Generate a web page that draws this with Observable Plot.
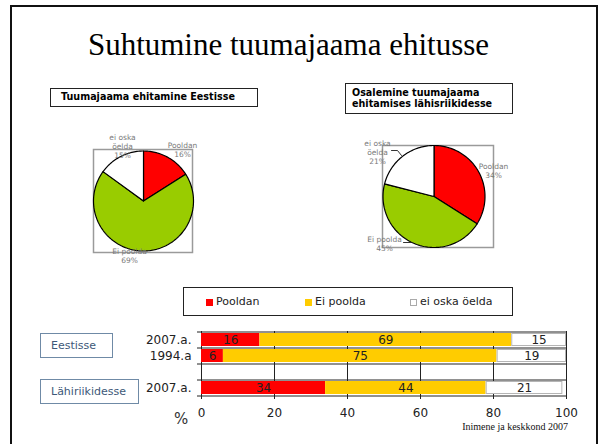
<!DOCTYPE html>
<html>
<head>
<meta charset="utf-8">
<script src="https://cdn.jsdelivr.net/npm/d3@7"></script>
<script src="https://cdn.jsdelivr.net/npm/@observablehq/plot@0.6"></script>
<style>
html, body { margin: 0; padding: 0; background: #fff; }
#slide { position: relative; width: 600px; height: 444px; overflow: hidden; font-family: "DejaVu Sans", Verdana, sans-serif; }
.abs { position: absolute; }
#border { left: 10px; top: 5px; width: 588px; height: 470px; border: 2px solid #111; box-sizing: border-box; }
#title { left: 0; top: 29px; width: 577px; text-align: center; font: 31px/31px "Liberation Serif", "Times New Roman", serif; color: #000; white-space: nowrap; }
.tbox { border: 1.5px solid #222; box-sizing: border-box; font-weight: bold; font-size: 9.6px; color: #000; white-space: pre; }
.gbox { border: 1.5px solid #6f8aa6; box-sizing: border-box; font-size: 11px; color: #3d5878; display: flex; align-items: center; padding-left: 10px; }
#legend { left: 183px; top: 287px; width: 330px; height: 29px; border: 1.5px solid #222; box-sizing: border-box; }
.sw { position: absolute; width: 7px; height: 7px; top: 11px; box-sizing: border-box; }
.lt { position: absolute; top: 7px; font-size: 11px; line-height: 13px; color: #222; white-space: nowrap; }
#pct { left: 174px; top: 410px; font-size: 15px; color: #333; }
#source { left: 400px; top: 421px; width: 168px; text-align: right; font: 10px/12px "Liberation Serif", "Times New Roman", serif; color: #111; white-space: nowrap; }
</style>
</head>
<body>
<div id="slide"></div>
<script>
// ---------- data ----------
const slideTitle = "Suhtumine tuumajaama ehitusse";
const pieTitles = ["Tuumajaama ehitamine Eestisse", "Osalemine tuumajaama\nehitamises lähisriikidesse"];
const pieSeries = ["Pooldan", "Ei poolda", "ei oska öelda"];
const pieLabelNames = ["Pooldan", "Ei poolda", "ei oska\nöelda"];
const pieColors = ["#ff0000", "#99cc00", "#ffffff"];
const eestiValues = [16, 69, 15];
const lahiValues = [34, 45, 21];

const barSeries = ["Pooldan", "Ei poolda", "ei oska öelda"];
const barColors = ["#ff0000", "#ffcc00", "#ffffff"];
const rowKeys = ["Eestisse 2007.a.", "Eestisse 1994.a", "vahe", "Lähiriikidesse 2007.a."];
const rowLabels = ["2007.a.", "1994.a", "", "2007.a."];
const pooldanValues = [16, 6, null, 34];
const eiPooldaValues = [69, 75, null, 44];
const eiOskaValues = [15, 19, null, 21];
const groupLabels = ["Eestisse", "Lähiriikidesse"];
const xTicks = [0, 20, 40, 60, 80, 100];
const unitLabel = "%";
const sourceText = "Inimene ja keskkond 2007";

// ---------- layout ----------
const PIE_LAYOUT = [
  { left: 60, top: 128, width: 170, height: 145, box: { l: 93, t: 149, r: 192, b: 252 }, cx: 143, cy: 200.5, r: 50,
    labels: [[39, 51], [-14, -55], [-21, 54.5]], leaders: [] },
  { left: 340, top: 128, width: 190, height: 135, box: { l: 382, t: 145, r: 493, b: 247 }, cx: 433.5, cy: 196, r: 51,
    labels: [[59.5, 25.5], [-49.5, -47.5], [-56.5, 44.5]],
    leaders: [[[-42.5, 46], [-36.5, 46], [-32.5, 41]], [[-30.5, -46], [-23.5, -46]]] }
];
const TBOX = [
  { left: 50, top: 88, width: 208, height: 19, pad: 10, lh: 16 },
  { left: 345, top: 83, width: 168, height: 31, pad: 6, lh: 11 }
];
const BAR = { left: 130, top: 322, width: 450, height: 106, plotL: 201, plotR: 566, plotT: 331, plotB: 395 };
const GBOX = [
  { left: 40, top: 333, width: 73, height: 25 },
  { left: 40, top: 379, width: 99, height: 25 }
];
const LEGEND_X = [22, 121, 226];

const slide = document.getElementById("slide");
function addDiv(cls, id, css, text) {
  const d = document.createElement("div");
  d.className = cls; if (id) d.id = id;
  Object.assign(d.style, css || {});
  if (text != null) d.textContent = text;
  slide.appendChild(d);
  return d;
}
function place(node, left, top) {
  const w = document.createElement("div");
  w.className = "abs";
  w.style.left = left + "px"; w.style.top = top + "px";
  w.appendChild(node);
  slide.appendChild(w);
}

addDiv("abs", "border");
addDiv("abs", "title", null, slideTitle);

// titles of pies
pieTitles.forEach((t, i) => {
  const b = TBOX[i];
  addDiv("abs tbox", null, { left: b.left + "px", top: b.top + "px", width: b.width + "px", height: b.height + "px",
    paddingLeft: b.pad + "px", lineHeight: b.lh + "px", paddingTop: (i === 0 ? 0 : 3) + "px" }, t);
});

// ---------- pies ----------
function pie(values, cfg) {
  const total = d3.sum(values);
  const pts = [];
  let acc = 0;
  values.forEach((v, i) => {
    const a0 = acc / total * 2 * Math.PI; acc += v; const a1 = acc / total * 2 * Math.PI;
    const n = Math.max(2, Math.ceil((a1 - a0) / (Math.PI / 120)));
    pts.push({ series: pieSeries[i], px: 0, py: 0 });
    for (let k = 0; k <= n; k++) {
      const a = a0 + (a1 - a0) * k / n;
      pts.push({ series: pieSeries[i], px: cfg.r * Math.sin(a), py: cfg.r * Math.cos(a) });
    }
    pts.push({ series: pieSeries[i], px: 0, py: 0 });
  });
  const labels = values.map((v, i) => ({ text: `${pieLabelNames[i]}\n${v}%`, px: cfg.labels[i][0], py: cfg.labels[i][1] }));
  const leaders = [];
  cfg.leaders.forEach((l, j) => l.forEach(p => leaders.push({ id: j, px: p[0], py: p[1] })));
  const b = cfg.box;
  return Plot.plot({
    width: cfg.width, height: cfg.height,
    marginLeft: b.l - cfg.left, marginRight: cfg.left + cfg.width - b.r,
    marginTop: b.t - cfg.top, marginBottom: cfg.top + cfg.height - b.b,
    x: { domain: [b.l - cfg.cx, b.r - cfg.cx], axis: null },
    y: { domain: [cfg.cy - b.b, cfg.cy - b.t], axis: null },
    color: { domain: pieSeries, range: pieColors },
    style: { background: "transparent", overflow: "visible", fontFamily: "DejaVu Sans" },
    marks: [
      Plot.frame({ stroke: "#9a9a9a", strokeWidth: 1.5 }),
      Plot.line(pts, { x: "px", y: "py", z: "series", fill: "series", stroke: "#000", strokeWidth: 1.2, strokeLinejoin: "round", curve: "linear" }),
      Plot.line(leaders, { x: "px", y: "py", z: "id", stroke: "#000", strokeWidth: 0.8, curve: "linear" }),
      Plot.text(labels, { x: "px", y: "py", text: "text", fontSize: 7.5, fill: "#7a7a7a", lineHeight: 1.2 })
    ]
  });
}
[eestiValues, lahiValues].forEach((vals, i) => {
  const cfg = PIE_LAYOUT[i];
  place(pie(vals, cfg), cfg.left, cfg.top);
});

// ---------- legend ----------
const legend = addDiv("abs", "legend");
barSeries.forEach((s, i) => {
  const sw = document.createElement("div");
  sw.className = "sw";
  sw.style.left = LEGEND_X[i] + "px";
  sw.style.background = barColors[i];
  if (barColors[i] === "#ffffff") sw.style.border = "1px solid #aaa";
  legend.appendChild(sw);
  const t = document.createElement("div");
  t.className = "lt";
  t.style.left = (LEGEND_X[i] + 10) + "px";
  t.textContent = s;
  legend.appendChild(t);
});

// ---------- group boxes ----------
groupLabels.forEach((g, i) => {
  const b = GBOX[i];
  addDiv("abs gbox", null, { left: b.left + "px", top: b.top + "px", width: b.width + "px", height: b.height + "px" }, g);
});

// ---------- bar chart ----------
const barData = [];
rowKeys.forEach((key, i) => {
  [pooldanValues, eiPooldaValues, eiOskaValues].forEach((arr, j) => {
    if (arr[i] != null) barData.push({ key, series: barSeries[j], value: arr[i] });
  });
});
const step = (BAR.plotB - BAR.plotT) / rowKeys.length;
const barChart = Plot.plot({
  width: BAR.width, height: BAR.height,
  marginLeft: BAR.plotL - BAR.left, marginRight: BAR.left + BAR.width - BAR.plotR,
  marginTop: BAR.plotT - BAR.top, marginBottom: BAR.top + BAR.height - BAR.plotB,
  x: { domain: [0, 100], ticks: xTicks, tickSize: 4, tickPadding: 8.5, label: null },
  y: { domain: rowKeys, paddingInner: 0.2, paddingOuter: 0.1, tickSize: 0, tickPadding: 10,
       tickFormat: d => rowLabels[rowKeys.indexOf(d)], label: null },
  color: { domain: barSeries, range: barColors },
  opacity: { type: "identity" },
  style: { fontFamily: "DejaVu Sans", fontSize: "12px", color: "#222", background: "transparent", overflow: "visible" },
  marks: [
    Plot.ruleX(xTicks, { stroke: "#222", strokeWidth: 1 }),
    Plot.barX(barData, Plot.stackX({ x: "value", y: "key", fill: "series" })),
    Plot.barX(barData, Plot.stackX({ x: "value", y: "key", fill: "none", stroke: "#b5b5b5", strokeWidth: 1,
      strokeOpacity: d => d.series === barSeries[2] ? 1 : 0, inset: 0.5 })),
    Plot.ruleY(rowKeys, { y: d => d, dy: -step / 2, x1: 0, x2: 100, insetLeft: -4, stroke: "#222" }),
    Plot.ruleY(rowKeys.slice(-1), { y: d => d, dy: step / 2, x1: 0, x2: 100, insetLeft: -4, stroke: "#222" }),
    Plot.text(barData, Plot.stackX({ x: "value", y: "key", text: "value", fontSize: 12, fill: "#222" }))
  ]
});
place(barChart, BAR.left, BAR.top);

addDiv("abs", "pct", null, unitLabel);
addDiv("abs", "source", null, sourceText);
</script>
</body>
</html>
